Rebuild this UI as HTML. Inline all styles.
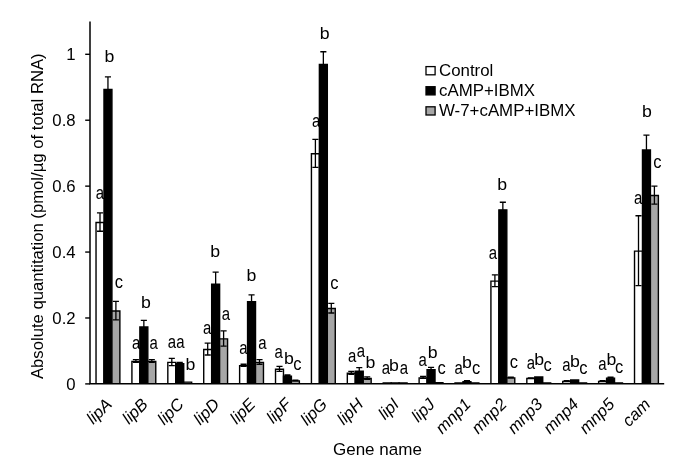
<!DOCTYPE html>
<html><head><meta charset="utf-8"><title>Absolute quantitation</title>
<style>html,body{margin:0;padding:0;background:#fff}svg{display:block}</style></head>
<body>
<svg width="685" height="470" viewBox="0 0 685 470" font-family="'Liberation Sans', sans-serif" fill="#000" stroke-linejoin="miter">
<rect width="685" height="470" fill="#fff"/>
<path d="M96.03 383.7V222.43H103.98V383.7" fill="#fff" stroke="#000" stroke-width="1.4"/>
<path d="M103.98 383.7V89.41H111.93V383.7" fill="#000" stroke="#000" stroke-width="1.4"/>
<path d="M111.93 383.7V311.03H119.88V383.7" fill="#a6a6a6" stroke="#000" stroke-width="1.4"/>
<path d="M100.00 212.79V231.27M96.95 212.79h6.1M96.95 231.27h6.1" stroke="#000" stroke-width="1.3" fill="none"/>
<path d="M107.95 76.83V100.59M104.90 76.83h6.1M104.90 100.59h6.1" stroke="#000" stroke-width="1.3" fill="none"/>
<path d="M115.90 301.39V319.88M112.85 301.39h6.1M112.85 319.88h6.1" stroke="#000" stroke-width="1.3" fill="none"/>
<path d="M131.92 383.7V361.36H139.87V383.7" fill="#fff" stroke="#000" stroke-width="1.4"/>
<path d="M139.87 383.7V327.01H147.82V383.7" fill="#000" stroke="#000" stroke-width="1.4"/>
<path d="M147.82 383.7V361.36H155.77V383.7" fill="#a6a6a6" stroke="#000" stroke-width="1.4"/>
<path d="M135.90 359.64V362.28M132.85 359.64h6.1M132.85 362.28h6.1" stroke="#000" stroke-width="1.3" fill="none"/>
<path d="M143.85 320.37V332.25M140.80 320.37h6.1M140.80 332.25h6.1" stroke="#000" stroke-width="1.3" fill="none"/>
<path d="M151.80 359.64V362.28M148.75 359.64h6.1M148.75 362.28h6.1" stroke="#000" stroke-width="1.3" fill="none"/>
<path d="M167.82 383.7V362.35H175.77V383.7" fill="#fff" stroke="#000" stroke-width="1.4"/>
<path d="M175.77 383.7V363.64H183.72V383.7" fill="#000" stroke="#000" stroke-width="1.4"/>
<path d="M183.72 383.7V382.15H191.67V383.7" fill="#a6a6a6" stroke="#000" stroke-width="1.4"/>
<path d="M171.80 358.32V365.58M168.75 358.32h6.1M168.75 365.58h6.1" stroke="#000" stroke-width="1.3" fill="none"/>
<path d="M179.75 362.28V363.60M176.70 362.28h6.1M176.70 363.60h6.1" stroke="#000" stroke-width="1.3" fill="none"/>
<path d="M203.72 383.7V349.48H211.67V383.7" fill="#fff" stroke="#000" stroke-width="1.4"/>
<path d="M211.67 383.7V284.11H219.62V383.7" fill="#000" stroke="#000" stroke-width="1.4"/>
<path d="M219.62 383.7V338.92H227.57V383.7" fill="#a6a6a6" stroke="#000" stroke-width="1.4"/>
<path d="M207.70 343.14V355.02M204.65 343.14h6.1M204.65 355.02h6.1" stroke="#000" stroke-width="1.3" fill="none"/>
<path d="M215.65 272.19V294.63M212.60 272.19h6.1M212.60 294.63h6.1" stroke="#000" stroke-width="1.3" fill="none"/>
<path d="M223.60 330.93V346.11M220.55 330.93h6.1M220.55 346.11h6.1" stroke="#000" stroke-width="1.3" fill="none"/>
<path d="M239.62 383.7V365.65H247.57V383.7" fill="#fff" stroke="#000" stroke-width="1.4"/>
<path d="M247.57 383.7V301.60H255.52V383.7" fill="#000" stroke="#000" stroke-width="1.4"/>
<path d="M255.52 383.7V362.35H263.47V383.7" fill="#a6a6a6" stroke="#000" stroke-width="1.4"/>
<path d="M243.60 364.26V366.24M240.55 364.26h6.1M240.55 366.24h6.1" stroke="#000" stroke-width="1.3" fill="none"/>
<path d="M251.55 294.96V306.84M248.50 294.96h6.1M248.50 306.84h6.1" stroke="#000" stroke-width="1.3" fill="none"/>
<path d="M259.50 359.64V364.26M256.45 359.64h6.1M256.45 364.26h6.1" stroke="#000" stroke-width="1.3" fill="none"/>
<path d="M275.52 383.7V369.28H283.47V383.7" fill="#fff" stroke="#000" stroke-width="1.4"/>
<path d="M283.47 383.7V376.18H291.42V383.7" fill="#000" stroke="#000" stroke-width="1.4"/>
<path d="M291.42 383.7V380.83H299.37V383.7" fill="#a6a6a6" stroke="#000" stroke-width="1.4"/>
<path d="M279.50 366.40V371.35M276.45 366.40h6.1M276.45 371.35h6.1" stroke="#000" stroke-width="1.3" fill="none"/>
<path d="M287.45 374.82V376.14M284.40 374.82h6.1M284.40 376.14h6.1" stroke="#000" stroke-width="1.3" fill="none"/>
<path d="M295.40 380.10V380.76M292.35 380.10h6.1M292.35 380.76h6.1" stroke="#000" stroke-width="1.3" fill="none"/>
<path d="M311.43 383.7V153.79H319.38V383.7" fill="#fff" stroke="#000" stroke-width="1.4"/>
<path d="M319.38 383.7V64.33H327.32V383.7" fill="#000" stroke="#000" stroke-width="1.4"/>
<path d="M327.32 383.7V308.56H335.27V383.7" fill="#a6a6a6" stroke="#000" stroke-width="1.4"/>
<path d="M315.40 139.37V167.41M312.35 139.37h6.1M312.35 167.41h6.1" stroke="#000" stroke-width="1.3" fill="none"/>
<path d="M323.35 51.75V75.51M320.30 51.75h6.1M320.30 75.51h6.1" stroke="#000" stroke-width="1.3" fill="none"/>
<path d="M331.30 303.31V313.01M328.25 303.31h6.1M328.25 313.01h6.1" stroke="#000" stroke-width="1.3" fill="none"/>
<path d="M347.32 383.7V373.24H355.27V383.7" fill="#fff" stroke="#000" stroke-width="1.4"/>
<path d="M355.27 383.7V371.23H363.22V383.7" fill="#000" stroke="#000" stroke-width="1.4"/>
<path d="M363.22 383.7V378.52H371.17V383.7" fill="#a6a6a6" stroke="#000" stroke-width="1.4"/>
<path d="M351.30 371.35V374.32M348.25 371.35h6.1M348.25 374.32h6.1" stroke="#000" stroke-width="1.3" fill="none"/>
<path d="M359.25 367.72V373.33M356.20 367.72h6.1M356.20 373.33h6.1" stroke="#000" stroke-width="1.3" fill="none"/>
<path d="M367.20 376.96V379.27M364.15 376.96h6.1M364.15 379.27h6.1" stroke="#000" stroke-width="1.3" fill="none"/>
<path d="M383.22 383.7V382.90H391.17V383.7" fill="#fff" stroke="#000" stroke-width="1.4"/>
<path d="M391.17 383.7V382.90H399.12V383.7" fill="#000" stroke="#000" stroke-width="1.4"/>
<path d="M399.12 383.7V382.90H407.07V383.7" fill="#a6a6a6" stroke="#000" stroke-width="1.4"/>
<path d="M419.12 383.7V377.86H427.07V383.7" fill="#fff" stroke="#000" stroke-width="1.4"/>
<path d="M427.07 383.7V369.74H435.02V383.7" fill="#000" stroke="#000" stroke-width="1.4"/>
<path d="M435.02 383.7V382.81H442.97V383.7" fill="#a6a6a6" stroke="#000" stroke-width="1.4"/>
<path d="M423.10 376.47V378.45M420.05 376.47h6.1M420.05 378.45h6.1" stroke="#000" stroke-width="1.3" fill="none"/>
<path d="M431.05 367.39V370.69M428.00 367.39h6.1M428.00 370.69h6.1" stroke="#000" stroke-width="1.3" fill="none"/>
<path d="M455.02 383.7V382.90H462.97V383.7" fill="#fff" stroke="#000" stroke-width="1.4"/>
<path d="M462.97 383.7V381.79H470.92V383.7" fill="#000" stroke="#000" stroke-width="1.4"/>
<path d="M470.92 383.7V382.90H478.87V383.7" fill="#a6a6a6" stroke="#000" stroke-width="1.4"/>
<path d="M466.95 380.76V381.42M463.90 380.76h6.1M463.90 381.42h6.1" stroke="#000" stroke-width="1.3" fill="none"/>
<path d="M490.92 383.7V281.17H498.87V383.7" fill="#fff" stroke="#000" stroke-width="1.4"/>
<path d="M498.87 383.7V209.86H506.82V383.7" fill="#000" stroke="#000" stroke-width="1.4"/>
<path d="M506.82 383.7V377.86H514.77V383.7" fill="#a6a6a6" stroke="#000" stroke-width="1.4"/>
<path d="M494.90 274.83V286.71M491.85 274.83h6.1M491.85 286.71h6.1" stroke="#000" stroke-width="1.3" fill="none"/>
<path d="M502.85 202.23V216.09M499.80 202.23h6.1M499.80 216.09h6.1" stroke="#000" stroke-width="1.3" fill="none"/>
<path d="M510.80 377.13V377.79M507.75 377.13h6.1M507.75 377.79h6.1" stroke="#000" stroke-width="1.3" fill="none"/>
<path d="M526.83 383.7V378.52H534.78V383.7" fill="#fff" stroke="#000" stroke-width="1.4"/>
<path d="M534.78 383.7V377.00H542.73V383.7" fill="#000" stroke="#000" stroke-width="1.4"/>
<path d="M542.73 383.7V382.90H550.68V383.7" fill="#a6a6a6" stroke="#000" stroke-width="1.4"/>
<path d="M530.80 377.79V378.45M527.75 377.79h6.1M527.75 378.45h6.1" stroke="#000" stroke-width="1.3" fill="none"/>
<path d="M562.73 383.7V381.49H570.68V383.7" fill="#fff" stroke="#000" stroke-width="1.4"/>
<path d="M570.68 383.7V379.97H578.63V383.7" fill="#000" stroke="#000" stroke-width="1.4"/>
<path d="M578.62 383.7V382.90H586.58V383.7" fill="#a6a6a6" stroke="#000" stroke-width="1.4"/>
<path d="M566.70 380.76V381.42M563.65 380.76h6.1M563.65 381.42h6.1" stroke="#000" stroke-width="1.3" fill="none"/>
<path d="M598.62 383.7V381.49H606.58V383.7" fill="#fff" stroke="#000" stroke-width="1.4"/>
<path d="M606.58 383.7V378.16H614.53V383.7" fill="#000" stroke="#000" stroke-width="1.4"/>
<path d="M614.52 383.7V382.90H622.48V383.7" fill="#a6a6a6" stroke="#000" stroke-width="1.4"/>
<path d="M602.60 380.76V381.42M599.55 380.76h6.1M599.55 381.42h6.1" stroke="#000" stroke-width="1.3" fill="none"/>
<path d="M610.55 377.13V377.79M607.50 377.13h6.1M607.50 377.79h6.1" stroke="#000" stroke-width="1.3" fill="none"/>
<path d="M634.52 383.7V251.14H642.48V383.7" fill="#fff" stroke="#000" stroke-width="1.4"/>
<path d="M642.48 383.7V149.90H650.43V383.7" fill="#000" stroke="#000" stroke-width="1.4"/>
<path d="M650.42 383.7V195.53H658.38V383.7" fill="#a6a6a6" stroke="#000" stroke-width="1.4"/>
<path d="M638.50 215.76V285.72M635.45 215.76h6.1M635.45 285.72h6.1" stroke="#000" stroke-width="1.3" fill="none"/>
<path d="M646.45 135.17V163.22M643.40 135.17h6.1M643.40 163.22h6.1" stroke="#000" stroke-width="1.3" fill="none"/>
<path d="M654.40 186.09V204.18M651.35 186.09h6.1M651.35 204.18h6.1" stroke="#000" stroke-width="1.3" fill="none"/>
<path d="M90.0 21.6V383.7H664.2" stroke="#000" stroke-width="1.5" fill="none"/>
<path d="M85.2 383.90h4.8" stroke="#000" stroke-width="1.4"/>
<text transform="translate(75.6 389.60) scale(1.06 1)" font-size="15.8" text-anchor="end">0</text>
<path d="M85.2 317.98h4.8" stroke="#000" stroke-width="1.4"/>
<text transform="translate(75.6 323.68) scale(1.06 1)" font-size="15.8" text-anchor="end">0.2</text>
<path d="M85.2 252.06h4.8" stroke="#000" stroke-width="1.4"/>
<text transform="translate(75.6 257.76) scale(1.06 1)" font-size="15.8" text-anchor="end">0.4</text>
<path d="M85.2 186.14h4.8" stroke="#000" stroke-width="1.4"/>
<text transform="translate(75.6 191.84) scale(1.06 1)" font-size="15.8" text-anchor="end">0.6</text>
<path d="M85.2 120.22h4.8" stroke="#000" stroke-width="1.4"/>
<text transform="translate(75.6 125.92) scale(1.06 1)" font-size="15.8" text-anchor="end">0.8</text>
<path d="M85.2 54.30h4.8" stroke="#000" stroke-width="1.4"/>
<text transform="translate(75.6 60.00) scale(1.06 1)" font-size="15.8" text-anchor="end">1</text>
<text transform="translate(112.85 405.3) rotate(-45)" font-size="16.7" font-style="italic" text-anchor="end">lipA</text>
<text transform="translate(148.75 405.3) rotate(-45)" font-size="16.7" font-style="italic" text-anchor="end">lipB</text>
<text transform="translate(184.65 405.3) rotate(-45)" font-size="16.7" font-style="italic" text-anchor="end">lipC</text>
<text transform="translate(220.55 405.3) rotate(-45)" font-size="16.7" font-style="italic" text-anchor="end">lipD</text>
<text transform="translate(256.45 405.3) rotate(-45)" font-size="16.7" font-style="italic" text-anchor="end">lipE</text>
<text transform="translate(292.35 405.3) rotate(-45)" font-size="16.7" font-style="italic" text-anchor="end">lipF</text>
<text transform="translate(328.25 405.3) rotate(-45)" font-size="16.7" font-style="italic" text-anchor="end">lipG</text>
<text transform="translate(364.15 405.3) rotate(-45)" font-size="16.7" font-style="italic" text-anchor="end">lipH</text>
<text transform="translate(400.05 405.3) rotate(-45)" font-size="16.7" font-style="italic" text-anchor="end">lipI</text>
<text transform="translate(435.95 405.3) rotate(-45)" font-size="16.7" font-style="italic" text-anchor="end">lipJ</text>
<text transform="translate(471.85 405.3) rotate(-45)" font-size="16.7" font-style="italic" text-anchor="end">mnp1</text>
<text transform="translate(507.75 405.3) rotate(-45)" font-size="16.7" font-style="italic" text-anchor="end">mnp2</text>
<text transform="translate(543.65 405.3) rotate(-45)" font-size="16.7" font-style="italic" text-anchor="end">mnp3</text>
<text transform="translate(579.55 405.3) rotate(-45)" font-size="16.7" font-style="italic" text-anchor="end">mnp4</text>
<text transform="translate(615.45 405.3) rotate(-45)" font-size="16.7" font-style="italic" text-anchor="end">mnp5</text>
<text transform="translate(651.35 405.3) rotate(-45)" font-size="16.7" font-style="italic" text-anchor="end">cam</text>
<text transform="translate(377.4 454.5) scale(1.045 1)" font-size="16.3" text-anchor="middle">Gene name</text>
<text transform="translate(43 216.2) rotate(-90) scale(1.03 1)" font-size="16.2" text-anchor="middle">Absolute quantitation (pmol/µg of total RNA)</text>
<rect x="426" y="66.60" width="9.1" height="8.2" fill="#fff" stroke="#000" stroke-width="1.3"/>
<text transform="translate(439 75.60) scale(1.035 1)" font-size="16.3">Control</text>
<rect x="426" y="86.70" width="9.1" height="8.2" fill="#000" stroke="#000" stroke-width="1.3"/>
<text transform="translate(439 95.70) scale(1.035 1)" font-size="16.3">cAMP+IBMX</text>
<rect x="426" y="106.80" width="9.1" height="8.2" fill="#a6a6a6" stroke="#000" stroke-width="1.3"/>
<text transform="translate(439 115.80) scale(1.035 1)" font-size="16.3">W-7+cAMP+IBMX</text>
<text transform="translate(100.0 198.9) scale(0.87 1.06)" font-size="17.2" text-anchor="middle">a</text>
<text transform="translate(109.5 61.9) scale(1.03 1.01)" font-size="17.2" text-anchor="middle">b</text>
<text transform="translate(118.9 287.8) scale(0.96 1.06)" font-size="17.2" text-anchor="middle">c</text>
<text transform="translate(136.1 349.1) scale(0.87 1.06)" font-size="17.2" text-anchor="middle">a</text>
<text transform="translate(145.8 307.5) scale(1.03 1.01)" font-size="17.2" text-anchor="middle">b</text>
<text transform="translate(153.7 349.1) scale(0.87 1.06)" font-size="17.2" text-anchor="middle">a</text>
<text transform="translate(172.0 347.9) scale(0.87 1.06)" font-size="17.2" text-anchor="middle">a</text>
<text transform="translate(180.3 347.9) scale(0.87 1.06)" font-size="17.2" text-anchor="middle">a</text>
<text transform="translate(190.3 370.2) scale(1.03 1.01)" font-size="17.2" text-anchor="middle">b</text>
<text transform="translate(207.2 333.8) scale(0.87 1.06)" font-size="17.2" text-anchor="middle">a</text>
<text transform="translate(215.2 257.1) scale(1.03 1.01)" font-size="17.2" text-anchor="middle">b</text>
<text transform="translate(225.9 319.7) scale(0.87 1.06)" font-size="17.2" text-anchor="middle">a</text>
<text transform="translate(243.4 353.8) scale(0.87 1.06)" font-size="17.2" text-anchor="middle">a</text>
<text transform="translate(251.5 281.1) scale(1.03 1.01)" font-size="17.2" text-anchor="middle">b</text>
<text transform="translate(262.4 348.6) scale(0.87 1.06)" font-size="17.2" text-anchor="middle">a</text>
<text transform="translate(278.7 357.9) scale(0.87 1.06)" font-size="17.2" text-anchor="middle">a</text>
<text transform="translate(288.8 363.6) scale(1.03 1.01)" font-size="17.2" text-anchor="middle">b</text>
<text transform="translate(297.3 370.1) scale(0.96 1.06)" font-size="17.2" text-anchor="middle">c</text>
<text transform="translate(316.1 126.9) scale(0.87 1.06)" font-size="17.2" text-anchor="middle">a</text>
<text transform="translate(324.6 38.7) scale(1.03 1.01)" font-size="17.2" text-anchor="middle">b</text>
<text transform="translate(334.4 288.7) scale(0.96 1.06)" font-size="17.2" text-anchor="middle">c</text>
<text transform="translate(352.1 361.5) scale(0.87 1.06)" font-size="17.2" text-anchor="middle">a</text>
<text transform="translate(360.8 357.1) scale(0.87 1.06)" font-size="17.2" text-anchor="middle">a</text>
<text transform="translate(370.3 367.6) scale(1.03 1.01)" font-size="17.2" text-anchor="middle">b</text>
<text transform="translate(385.8 373.7) scale(0.87 1.06)" font-size="17.2" text-anchor="middle">a</text>
<text transform="translate(393.9 370.7) scale(1.03 1.01)" font-size="17.2" text-anchor="middle">b</text>
<text transform="translate(404.0 374.3) scale(0.87 1.06)" font-size="17.2" text-anchor="middle">a</text>
<text transform="translate(422.6 365.8) scale(0.87 1.06)" font-size="17.2" text-anchor="middle">a</text>
<text transform="translate(432.7 358.0) scale(1.03 1.01)" font-size="17.2" text-anchor="middle">b</text>
<text transform="translate(441.7 373.8) scale(0.96 1.06)" font-size="17.2" text-anchor="middle">c</text>
<text transform="translate(458.7 373.7) scale(0.87 1.06)" font-size="17.2" text-anchor="middle">a</text>
<text transform="translate(466.9 368.4) scale(1.03 1.01)" font-size="17.2" text-anchor="middle">b</text>
<text transform="translate(476.0 373.8) scale(0.96 1.06)" font-size="17.2" text-anchor="middle">c</text>
<text transform="translate(493.0 258.7) scale(0.87 1.06)" font-size="17.2" text-anchor="middle">a</text>
<text transform="translate(502.1 189.7) scale(1.03 1.01)" font-size="17.2" text-anchor="middle">b</text>
<text transform="translate(513.8 367.6) scale(0.96 1.06)" font-size="17.2" text-anchor="middle">c</text>
<text transform="translate(530.8 368.5) scale(0.87 1.06)" font-size="17.2" text-anchor="middle">a</text>
<text transform="translate(539.2 365.3) scale(1.03 1.01)" font-size="17.2" text-anchor="middle">b</text>
<text transform="translate(547.5 371.4) scale(0.96 1.06)" font-size="17.2" text-anchor="middle">c</text>
<text transform="translate(566.4 371.1) scale(0.87 1.06)" font-size="17.2" text-anchor="middle">a</text>
<text transform="translate(574.8 366.5) scale(1.03 1.01)" font-size="17.2" text-anchor="middle">b</text>
<text transform="translate(583.3 374.0) scale(0.96 1.06)" font-size="17.2" text-anchor="middle">c</text>
<text transform="translate(602.4 369.7) scale(0.87 1.06)" font-size="17.2" text-anchor="middle">a</text>
<text transform="translate(611.3 364.9) scale(1.03 1.01)" font-size="17.2" text-anchor="middle">b</text>
<text transform="translate(619.2 372.9) scale(0.96 1.06)" font-size="17.2" text-anchor="middle">c</text>
<text transform="translate(638.2 203.6) scale(0.87 1.06)" font-size="17.2" text-anchor="middle">a</text>
<text transform="translate(646.9 117.1) scale(1.03 1.01)" font-size="17.2" text-anchor="middle">b</text>
<text transform="translate(657.4 167.7) scale(0.96 1.06)" font-size="17.2" text-anchor="middle">c</text>
</svg>
</body></html>
